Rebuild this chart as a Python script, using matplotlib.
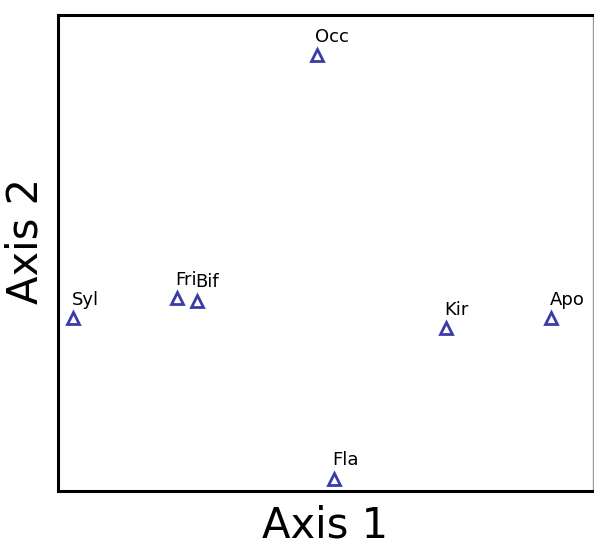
import matplotlib
matplotlib.use("Agg")
import matplotlib.pyplot as plt

# ordination scores
sites = ["Syl", "Fri", "Bif", "Occ", "Kir", "Apo", "Fla"]
axis1 = [-0.472, -0.278, -0.240, -0.016, 0.225, 0.423, 0.016]
axis2 = [-0.137, -0.095, -0.101, 0.416, -0.158, -0.137, -0.475]

fig = plt.figure(figsize=(5.94, 5.4), dpi=100)
ax = fig.add_axes([0.0976, 0.0907, 0.9, 0.881])

ax.plot(axis1, axis2, linestyle='none', marker='^', markersize=9,
        markerfacecolor='none', markeredgecolor='#3b3ba8', markeredgewidth=2)

for name, x, y in zip(sites, axis1, axis2):
    ax.annotate(name, (x, y), xytext=(-1, 7), textcoords='offset points',
                ha='left', va='bottom', fontsize=13)

ax.set_xlim(-0.5, 0.5)
ax.set_ylim(-0.5, 0.5)
ax.set_xticks([])
ax.set_yticks([])
for side in ['left', 'bottom', 'top']:
    ax.spines[side].set_linewidth(2.2)
ax.spines['right'].set_linewidth(1.0)
ax.spines['right'].set_color('#999999')

ax.set_xlabel('Axis 1', fontsize=30, labelpad=10)
ax.set_ylabel('Axis 2', fontsize=30)
ax.yaxis.set_label_coords(-0.022, 0.525)

fig.savefig('out.png', dpi=100)
